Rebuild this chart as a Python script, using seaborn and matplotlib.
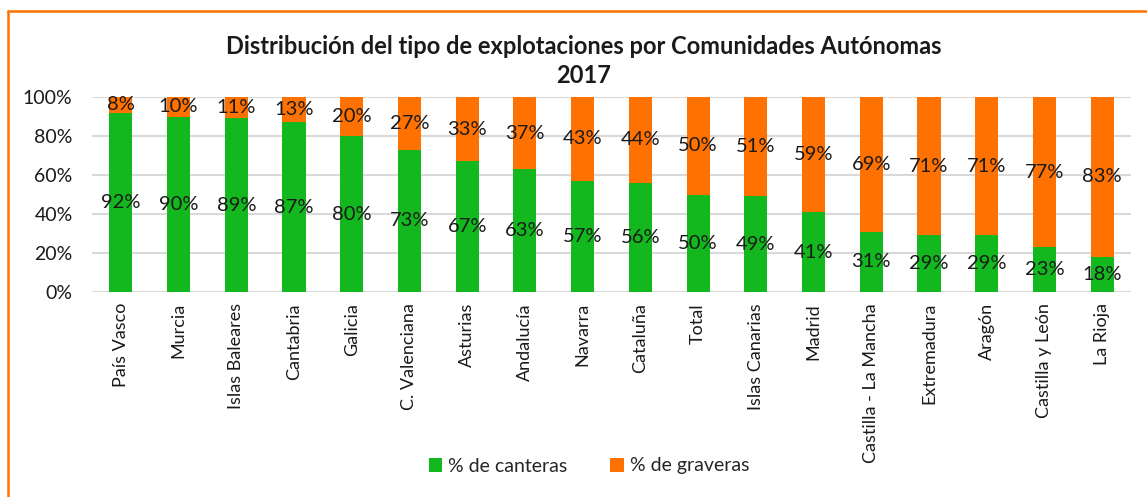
import matplotlib
matplotlib.use("Agg")
import matplotlib.pyplot as plt
from matplotlib.patches import Patch
from matplotlib.lines import Line2D
import seaborn as sns
import pandas as pd

categories = ["País Vasco", "Murcia", "Islas Baleares", "Cantabria", "Galicia",
              "C. Valenciana", "Asturias", "Andalucía", "Navarra", "Cataluña",
              "Total", "Islas Canarias", "Madrid", "Castilla - La Mancha",
              "Extremadura", "Aragón", "Castilla y León", "La Rioja"]
canteras = [92, 90, 89, 87, 80, 73, 67, 63, 57, 56, 50, 49, 41, 31, 29, 29, 23, 18]
graveras = [8, 10, 11, 13, 20, 27, 33, 37, 43, 44, 50, 51, 59, 69, 71, 71, 77, 83]
yticks = [0, 20, 40, 60, 80, 100]
title = "Distribución del tipo de explotaciones por Comunidades Autónomas\n2017"
legend_labels = ["% de canteras", "% de graveras"]

GREEN = "#12B81E"
ORANGE = "#FF7100"
TXT = "#1a1a1a"

sns.set_theme(style="white")
plt.rcParams["font.family"] = ["Lato", "DejaVu Sans"]

df = pd.DataFrame({"cat": categories, "canteras": canteras, "graveras": graveras})
df["total"] = df["canteras"] + df["graveras"]

W, H = 1147, 497
fig = plt.figure(figsize=(W / 100, H / 100), dpi=100)
ax = fig.add_axes([92 / W, 1 - 292 / H, (1131 - 92) / W, (292 - 97) / H])

sns.barplot(data=df, x="cat", y="total", color=ORANGE, width=0.4, ax=ax,
            saturation=1, edgecolor="none", zorder=2)
sns.barplot(data=df, x="cat", y="canteras", color=GREEN, width=0.4, ax=ax,
            saturation=1, edgecolor="none", zorder=3)

ax.set_ylim(0, 100)
ax.set_xlim(-0.5, len(categories) - 0.5)
ax.set_yticks(yticks)
ax.set_yticklabels([f"{t}%" for t in yticks], fontsize=14, color=TXT)
ax.set_xticks(range(len(categories)))
ax.set_xticklabels(categories, rotation=90, fontsize=13, color=TXT)
ax.tick_params(axis="x", length=0, pad=8)
ax.tick_params(axis="y", length=0, pad=14)
ax.set_xlabel("")
ax.set_ylabel("")
for s in ax.spines.values():
    s.set_visible(False)
ax.yaxis.grid(True, color="#D9D9D9", linewidth=1.5, zorder=0)
ax.set_axisbelow(True)

for i, (g, o) in enumerate(zip(canteras, graveras)):
    ax.text(i, g / 2, f"{g}%", ha="center", va="center", fontsize=14.5,
            color=TXT, zorder=5)
    top = min(g + o, 100)
    ax.text(i, (g + top) / 2, f"{o}%", ha="center", va="center", fontsize=14.5,
            color=TXT, zorder=5)

fig.text(584 / W, 1 - 61 / H, title, ha="center", va="center", fontsize=17,
         fontweight="bold", color=TXT, linespacing=1.3)

handles = [Patch(facecolor=GREEN, edgecolor="none"),
           Patch(facecolor=ORANGE, edgecolor="none")]
fig.legend(handles, legend_labels, loc="center", bbox_to_anchor=(589 / W, 1 - 466 / H),
           ncol=2, frameon=False, fontsize=14, handlelength=0.7, handleheight=0.7,
           handletextpad=0.3, columnspacing=2.2)

# orange chart border (top and left visible)
fig.add_artist(Line2D([8 / W, 1.0], [1 - 11 / H, 1 - 11 / H], color=ORANGE, lw=1.8,
                      transform=fig.transFigure))
fig.add_artist(Line2D([8 / W, 8 / W], [1 - 11 / H, 0.0], color=ORANGE, lw=1.8,
                      transform=fig.transFigure))

fig.savefig("out.png", dpi=100)
